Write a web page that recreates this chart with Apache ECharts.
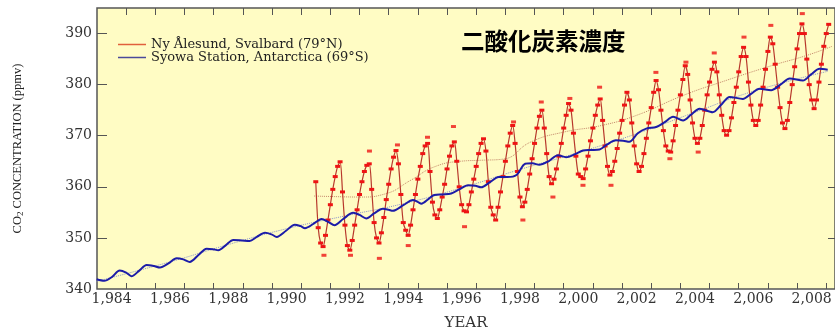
<!DOCTYPE html>
<html>
<head>
<meta charset="utf-8">
<script src="https://cdn.jsdelivr.net/npm/echarts@6/dist/echarts.min.js"></script>
<style>
  html, body { margin: 0; padding: 0; background: #fff; }
  #chart { width: 835px; height: 328px; }
</style>
</head>
<body>
<div id="chart"></div>
<script>
// 轴刻度
const yearLabels = [1984, 1986, 1988, 1990, 1992, 1994, 1996, 1998, 2000, 2002, 2004, 2006, 2008]
const yearTicks = [1984.5, 1985.5, 1986.5, 1987.5, 1988.5, 1989.5, 1990.5, 1991.5, 1992.5, 1993.5, 1994.5,
  1995.5, 1996.5, 1997.5, 1998.5, 1999.5, 2000.5, 2001.5, 2002.5, 2003.5, 2004.5, 2005.5, 2006.5, 2007.5, 2008.5]
const ppmLabels = [340, 350, 360, 370, 380, 390]
const ppmTicks = [350, 360, 370, 380, 390]

// Ny Ålesund 月值 (从 1991.0 开始, 每月一个)
const nyStart = 1991
const nyValues = [
  361.0,
  352.0, 349.0, 348.3, 350.5, 353.5, 356.5, 359.5, 362.0, 364.0, 364.9, 359.0, 352.5,
  348.5, 347.6, 349.5, 352.5, 355.5, 358.5, 361.0, 363.0, 364.2, 364.5, 359.5, 353.0,
  350.0, 349.0, 351.0, 354.0, 357.5, 360.5, 363.5, 365.8, 367.1, 364.5, 358.5, 353.0,
  351.5, 350.5, 352.5, 355.5, 358.5, 361.5, 364.0, 366.5, 368.0, 368.5, 363.0, 357.0,
  354.5, 353.8, 355.5, 358.0, 360.5, 363.5, 366.0, 368.0, 368.8, 365.0, 360.0, 356.5,
  355.3, 355.1, 356.5, 359.0, 361.5, 364.0, 366.5, 368.5, 369.4, 367.0, 361.0, 356.0,
  354.5, 353.5, 356.0, 359.0, 362.0, 365.0, 368.0, 370.5, 372.0, 368.5, 363.0, 358.0,
  356.1, 357.0, 359.5, 362.5, 365.5, 368.5, 371.5, 373.8, 375.0, 371.5, 366.5, 362.0,
  360.6, 361.5, 363.5, 366.0, 368.5, 371.5, 374.0, 376.3, 375.0, 370.5, 366.0, 362.5,
  362.0, 361.6, 363.5, 366.0, 369.0, 371.5, 374.0, 376.0, 377.2, 373.0, 368.0, 364.0,
  362.3, 363.0, 365.0, 367.5, 370.5, 373.0, 376.0, 378.5, 377.0, 372.5, 368.0, 364.5,
  363.0, 364.0, 366.5, 369.5, 372.5, 375.5, 378.5, 380.8, 379.0, 375.0, 371.0, 368.0,
  367.0, 366.8, 369.0, 372.0, 375.0, 378.0, 381.0, 383.7, 382.0, 377.0, 372.5, 369.5,
  368.5, 369.5, 372.0, 375.0, 378.0, 380.5, 383.0, 384.4, 382.5, 378.0, 374.0, 371.0,
  370.1, 371.0, 373.5, 376.5, 379.5, 382.5, 385.5, 387.3, 385.5, 380.5, 376.0, 373.0,
  372.0, 373.0, 376.0, 379.5, 383.0, 386.5, 389.3, 388.0, 384.0, 379.5, 375.5, 372.5,
  371.4, 373.0, 376.5, 380.0, 383.5, 387.0, 390.0, 391.9, 390.0, 385.0, 380.0, 377.0,
  375.3, 377.0, 380.5, 384.0, 387.5, 390.0, 391.8
]

// 离散的个别测量点
const nyExtraTimes = [1991.28, 1992.19, 1993.18, 1994.17, 1996.1, 1998.1, 1999.13, 2000.16, 2001.12, 2003.14, 2004.11,
  1992.84, 1993.8, 1994.83, 1995.72, 1997.78, 1998.73, 1999.71, 2000.73, 2002.66, 2003.69, 2004.66, 2005.68, 2006.6, 2007.68]
const nyExtraValues = [346.6, 346.6, 346.0, 348.5, 352.2, 353.5, 358.0, 360.3, 360.3, 365.5, 366.8,
  367.0, 368.2, 369.7, 371.8, 372.7, 376.6, 377.3, 379.5, 382.4, 384.4, 386.2, 389.3, 391.6, 393.9]

// Ny Ålesund 趋势线
const nyTrendTimes = [1990.94, 1991.55, 1992.55, 1993.37, 1994.26, 1995.06, 1995.96, 1996.67, 1997.4, 1998.38,
  1999.49, 2000.79, 2002.0, 2003.6, 2004.9, 2006.62, 2007.82, 2008.7]
const nyTrendValues = [358.2, 358.1, 358.0, 358.6, 361.3, 363.9, 365.0, 365.2, 365.4, 368.8,
  370.7, 372.0, 374.0, 377.9, 380.5, 383.7, 385.7, 387.5]

// Syowa
const syTimes = [1983.49, 1983.75, 1984.0, 1984.28, 1984.5, 1984.68, 1984.95,
  1985.2, 1985.45, 1985.66, 1985.95, 1986.23, 1986.46, 1986.68, 1986.97,
  1987.26, 1987.47, 1987.66, 1987.92, 1988.17, 1988.47, 1988.73, 1988.98,
  1989.26, 1989.48, 1989.66, 1989.98, 1990.28, 1990.48, 1990.63, 1990.93,
  1991.2, 1991.44, 1991.64, 1991.94, 1992.28, 1992.5, 1992.73, 1993.0,
  1993.3, 1993.5, 1993.64, 1994.0, 1994.33, 1994.51, 1994.62, 1994.86,
  1995.06, 1995.36, 1995.64, 1995.92, 1996.22, 1996.47, 1996.67, 1996.97,
  1997.27, 1997.57, 1997.88, 1998.18, 1998.43, 1998.66, 1998.98,
  1999.3, 1999.58, 1999.89, 2000.16, 2000.44, 2000.73, 2000.99,
  2001.29, 2001.54, 2001.75, 2002.04, 2002.33, 2002.67, 2002.95,
  2003.25, 2003.59, 2003.86, 2004.16, 2004.61, 2004.89,
  2005.19, 2005.64, 2005.92, 2006.21, 2006.61, 2006.93,
  2007.25, 2007.7, 2007.98, 2008.27, 2008.55]
const syValues = [341.9, 341.6, 342.3, 343.6, 343.2, 342.5, 343.6,
  344.7, 344.5, 344.2, 345.0, 346.0, 345.8, 345.3, 346.6,
  347.9, 347.8, 347.6, 348.6, 349.6, 349.5, 349.4, 350.2,
  351.0, 350.7, 350.2, 351.4, 352.6, 352.3, 351.9, 352.8,
  353.7, 353.1, 352.5, 353.7, 354.9, 354.5, 353.8, 354.8,
  355.7, 355.5, 355.3, 356.4, 357.4, 357.0, 356.7, 357.6,
  358.4, 358.5, 358.7, 359.5, 360.3, 360.2, 359.9, 360.9,
  361.9, 361.9, 362.3, 364.5, 364.6, 364.3, 365.0,
  366.2, 365.8, 366.4, 367.1, 367.2, 367.3, 368.3,
  369.1, 369.0, 368.8, 370.5, 371.4, 371.7, 372.6,
  373.7, 373.0, 374.1, 375.3, 374.6, 376.0,
  377.6, 377.2, 378.2, 379.2, 378.9, 380.0,
  381.2, 380.8, 382.0, 383.1, 382.9]

// Syowa 趋势线
const syTrendTimes = [1983.49, 1986, 1988, 1990, 1992, 1994, 1996, 1998, 2000, 2002, 2004, 2006, 2008.55]
const syTrendValues = [341.5, 345.3, 348.7, 351.8, 354.3, 356.7, 359.8, 363.4, 366.7, 370.4, 374.6, 378.7, 382.6]

const nyName = 'Ny Ålesund, Svalbard (79°N)'
const syName = 'Syowa Station, Antarctica (69°S)'

function zip(xs, ys) {
  return xs.map((x, i) => [x, ys[i]])
}

const nyData = nyValues.map((v, i) => [nyStart + i / 12, v])

const labelFont = { fontFamily: 'DejaVu Serif', fontSize: 14, color: '#333' }

const chart = echarts.init(document.getElementById('chart'))
chart.setOption({
  animation: false,
  backgroundColor: '#fff',
  title: {
    text: '二酸化炭素濃度',
    left: 461,
    top: 29,
    padding: 0,
    textStyle: { fontFamily: 'Noto Sans CJK JP', fontSize: 23.5, fontWeight: 'bold', color: '#000' }
  },
  legend: {
    orient: 'vertical',
    left: 118,
    top: 38,
    padding: 0,
    itemGap: 0,
    itemWidth: 28,
    itemHeight: 1.5,
    textStyle: { fontFamily: 'DejaVu Serif', fontSize: 13, color: '#222', lineHeight: 11 },
    data: [
      { name: nyName, icon: 'rect', itemStyle: { color: '#e0603c' } },
      { name: syName, icon: 'rect', itemStyle: { color: '#4a4a9a' } }
    ]
  },
  grid: {
    left: 97, top: 8, right: 0, bottom: 39,
    outerBoundsMode: 'none',
    show: true,
    backgroundColor: '#fffcc4',
    borderColor: '#555',
    borderWidth: 1.5
  },
  xAxis: [{
    type: 'value',
    min: 1983.5,
    max: 2008.8,
    name: 'YEAR',
    nameLocation: 'middle',
    nameGap: 27,
    nameTextStyle: { fontFamily: 'DejaVu Serif', fontSize: 15, color: '#333' },
    axisLine: { show: false },
    splitLine: { show: false },
    axisTick: { inside: true, length: 6, customValues: yearTicks, lineStyle: { color: '#555' } },
    axisLabel: { customValues: yearLabels, margin: 3, ...labelFont }
  }, {
    type: 'value',
    position: 'top',
    min: 1983.5,
    max: 2008.8,
    axisLine: { show: false },
    splitLine: { show: false },
    axisTick: { inside: true, length: 7, customValues: yearTicks, lineStyle: { color: '#555' } },
    axisLabel: { show: false }
  }],
  yAxis: [{
    type: 'value',
    min: 340,
    max: 395,
    name: '{a|CO}{b|2}{a| CONCENTRATION (ppmv)}',
    nameLocation: 'middle',
    nameRotate: 90,
    nameGap: 72,
    nameTextStyle: {
      rich: {
        a: { fontFamily: 'Liberation Serif', fontSize: 12.5, color: '#222' },
        b: { fontFamily: 'Liberation Serif', fontSize: 9, color: '#222', verticalAlign: 'bottom', padding: [6, 0, 0, 0] }
      }
    },
    axisLine: { show: false },
    splitLine: { show: false },
    axisTick: { inside: true, length: 10, customValues: ppmTicks, lineStyle: { color: '#555' } },
    axisLabel: { customValues: ppmLabels, margin: 5, ...labelFont }
  }, {
    type: 'value',
    position: 'right',
    min: 340,
    max: 395,
    axisLine: { show: false },
    splitLine: { show: false },
    axisTick: { inside: true, length: 7, customValues: ppmTicks, lineStyle: { color: '#555' } },
    axisLabel: { show: false }
  }],
  series: [
    {
      name: 'sy-trend',
      type: 'line',
      data: zip(syTrendTimes, syTrendValues),
      smooth: true,
      showSymbol: false,
      lineStyle: { color: '#8a94c8', width: 1, type: 'dotted' },
      z: 2
    },
    {
      name: 'ny-trend',
      type: 'line',
      data: zip(nyTrendTimes, nyTrendValues),
      smooth: true,
      showSymbol: false,
      lineStyle: { color: '#c4876a', width: 1, type: 'dotted' },
      z: 2
    },
    {
      name: nyName,
      type: 'line',
      data: nyData,
      smooth: 0.3,
      symbol: 'rect',
      symbolSize: [5, 3],
      showAllSymbol: true,
      itemStyle: { color: '#ee1414' },
      lineStyle: { color: '#b8382c', width: 1.2 },
      z: 3
    },
    {
      name: 'ny-extra',
      type: 'scatter',
      data: zip(nyExtraTimes, nyExtraValues),
      symbol: 'rect',
      symbolSize: [5, 3],
      itemStyle: { color: '#ee1414' },
      z: 3
    },
    {
      name: syName,
      type: 'line',
      data: zip(syTimes, syValues),
      smooth: 0.3,
      showSymbol: false,
      itemStyle: { color: '#1c1ca8' },
      lineStyle: { color: '#1c1ca8', width: 2 },
      z: 4
    }
  ]
})
</script>
</body>
</html>
